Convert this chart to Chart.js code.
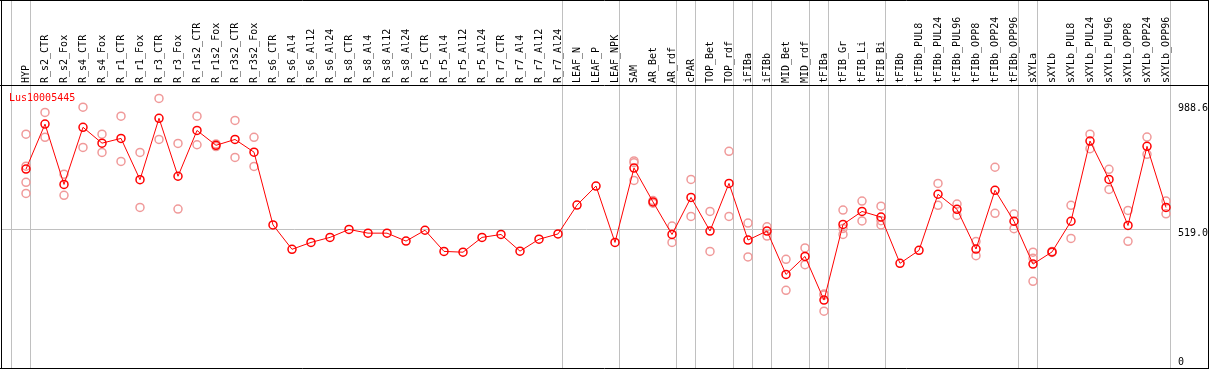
<!DOCTYPE html>
<html>
<head>
<meta charset="utf-8">
<title>Lus10005445</title>
<script src="https://cdn.jsdelivr.net/npm/chart.js@4/dist/chart.umd.min.js"></script>
<style>
    html, body { margin: 0; padding: 0; background: #fff; }
    #box { width: 1209px; height: 370px; }
</style>
</head>
<body>
<div id="box"><canvas id="grafico" width="1209" height="370"></canvas></div>
<script>
// -------------------------------------------
//  DADOS
// -------------------------------------------

var gene = "Lus10005445"

var amostras = [
    "HYP", "R_s2_CTR", "R_s2_Fox", "R_s4_CTR", "R_s4_Fox", "R_r1_CTR", "R_r1_Fox", "R_r3_CTR", "R_r3_Fox",
    "R_r1s2_CTR", "R_r1s2_Fox", "R_r3s2_CTR", "R_r3s2_Fox", "R_s6_CTR", "R_s6_Al4", "R_s6_Al12", "R_s6_Al24",
    "R_s8_CTR", "R_s8_Al4", "R_s8_Al12", "R_s8_Al24", "R_r5_CTR", "R_r5_Al4", "R_r5_Al12", "R_r5_Al24",
    "R_r7_CTR", "R_r7_Al4", "R_r7_Al12", "R_r7_Al24", "LEAF_N", "LEAF_P", "LEAF_NPK", "SAM", "AR_Bet", "AR_rdf",
    "cPAR", "TOP_Bet", "TOP_rdf", "iFIBa", "iFIBb", "MID_Bet", "MID_rdf", "tFIBa", "tFIB_Gr", "tFIB_Li", "tFIB_Bi",
    "tFIBb", "tFIBb_PUL8", "tFIBb_PUL24", "tFIBb_PUL96", "tFIBb_OPP8", "tFIBb_OPP24", "tFIBb_OPP96",
    "sXYLa", "sXYLb", "sXYLb_PUL8", "sXYLb_PUL24", "sXYLb_PUL96", "sXYLb_OPP8", "sXYLb_OPP24", "sXYLb_OPP96"
]

// media de cada amostra
var medias = [
    744, 914, 686, 902, 842, 860, 704, 936, 717, 890, 834, 856, 808,
    533, 441, 467, 486, 516, 502, 502, 472, 513, 433, 430, 486, 497, 434, 479, 499, 608, 680, 467,
    748, 620, 497, 637, 510, 690, 476, 510, 346, 414, 249, 535, 584, 563,
    388, 437, 649, 592, 442, 664, 547, 385, 431, 547, 850, 705, 531, 830, 599
]

// replicatas (mesma ordem das amostras)
var replicatas = [
    [876, 755, 694, 652], [958, 864], [725, 645], [978, 826], [876, 807], [944, 773], [807, 599],
    [1011, 856], [841, 593], [944, 836], [839, 829], [928, 788], [864, 754],
    [], [], [], [], [], [], [], [], [], [], [], [], [], [], [], [], [], [], [],
    [775, 768, 701], [625, 615], [529, 467], [705, 565], [584, 433], [811, 565], [540, 412], [526, 491],
    [403, 286], [446, 383], [272, 268, 207], [589, 520, 497], [623, 548], [604, 549, 533],
    [], [], [690, 607], [612, 569], [470, 417], [751, 577], [574, 519],
    [430, 407, 320], [433, 429], [607, 482], [876, 821], [743, 667], [588, 471], [865, 800], [623, 575]
]

// marcas do eixo y
var ticksY = [0, 519.0, 988.6]
var linhaY = 519.0

// separadores de grupo: depois de qual amostra
var separadores = [-1, 0, 28, 31, 34, 35, 37, 38, 39, 41, 42, 45, 52, 53, 60]

// -------------------------------------------
//  MONTAGEM
// -------------------------------------------

var pontosMedia = medias.map(function(v, i) { return { x: i, y: v } })

var pontosRep = []
for (var i = 0; i < replicatas.length; i++) {
    for (var j = 0; j < replicatas[i].length; j++) {
        pontosRep.push({ x: i, y: replicatas[i][j] })
    }
}

var fonte = "DejaVu Sans Mono"

var molduraPlugin = {
    id: "moldura",
    beforeDatasetsDraw: function(chart) {
        var ctx = chart.ctx
        var a = chart.chartArea
        var sx = chart.scales.x
        var sy = chart.scales.y
        ctx.save()
        ctx.strokeStyle = "#c0c0c0"
        ctx.lineWidth = 1
        for (var k = 0; k < separadores.length; k++) {
            var px = Math.round(sx.getPixelForValue(separadores[k] + 0.23)) + 0.5
            ctx.beginPath()
            ctx.moveTo(px, 0)
            ctx.lineTo(px, 368)
            ctx.stroke()
        }
        var py = Math.round(sy.getPixelForValue(linhaY)) + 0.5
        ctx.beginPath()
        ctx.moveTo(a.left, py)
        ctx.lineTo(a.right, py)
        ctx.stroke()
        ctx.restore()
    },
    afterDraw: function(chart) {
        var ctx = chart.ctx
        var a = chart.chartArea
        var sy = chart.scales.y
        var w = chart.width
        ctx.save()
        ctx.strokeStyle = "#000"
        ctx.lineWidth = 1
        ctx.beginPath()
        ctx.moveTo(0, 0.5); ctx.lineTo(w, 0.5)
        ctx.moveTo(0, 85.5); ctx.lineTo(w, 85.5)
        ctx.moveTo(1.5, 0); ctx.lineTo(1.5, 369)
        ctx.moveTo(w - 0.5, 0); ctx.lineTo(w - 0.5, 369)
        ctx.moveTo(0, 368.5); ctx.lineTo(w, 368.5)
        ctx.stroke()

        // rotulos do eixo y
        ctx.fillStyle = "#000"
        ctx.font = "10px '" + fonte + "'"
        ctx.textBaseline = "alphabetic"
        ctx.textAlign = "left"
        for (var k = 0; k < ticksY.length; k++) {
            var t = ticksY[k]
            var y = Math.min(sy.getPixelForValue(t) + 7, 365)
            ctx.fillText(t === 0 ? "0" : t.toFixed(1), a.right + 7, y)
        }

        // nome do gene
        ctx.fillStyle = "#ff0000"
        ctx.fillText(gene, 9, 101)
        ctx.restore()
    }
}

new Chart(document.getElementById("grafico"), {
    type: "line",
    data: {
        datasets: [
            {
                label: gene,
                data: pontosMedia,
                borderColor: "#ff0000",
                borderWidth: 1,
                pointRadius: 4,
                pointBorderWidth: 1.5,
                pointBorderColor: "#ff0000",
                pointBackgroundColor: "rgba(0,0,0,0)",
                tension: 0
            },
            {
                label: "replicatas",
                data: pontosRep,
                showLine: false,
                pointRadius: 4,
                pointBorderWidth: 1.5,
                pointBorderColor: "#f09a9a",
                pointBackgroundColor: "rgba(0,0,0,0)"
            }
        ]
    },
    options: {
        responsive: false,
        animation: false,
        devicePixelRatio: 1,
        layout: { autoPadding: false, padding: { left: 2, right: 0, top: 0, bottom: 4 } },
        plugins: { legend: { display: false }, tooltip: { enabled: false }, title: { display: false } },
        scales: {
            x: {
                type: "linear",
                position: "top",
                min: -24 / 19,
                max: -24 / 19 + 1169 / 19,
                afterBuildTicks: function(s) {
                    s.ticks = amostras.map(function(n, i) { return { value: i } })
                },
                afterFit: function(s) {
                    s.height = 86
                    s.paddingLeft = 0
                    s.paddingRight = 0
                },
                grid: { display: false, drawTicks: false },
                border: { display: false },
                ticks: {
                    autoSkip: false,
                    minRotation: 90,
                    maxRotation: 90,
                    padding: 3,
                    labelOffset: 12,
                    color: "#000",
                    font: { family: fonte, size: 10 },
                    callback: function(v) { return amostras[v] }
                }
            },
            y: {
                type: "linear",
                position: "right",
                min: 0,
                max: 1058,
                afterFit: function(s) { s.width = 38 },
                grid: { display: false, drawTicks: false },
                border: { display: false },
                ticks: { display: false }
            }
        }
    },
    plugins: [molduraPlugin]
})
</script>
</body>
</html>
